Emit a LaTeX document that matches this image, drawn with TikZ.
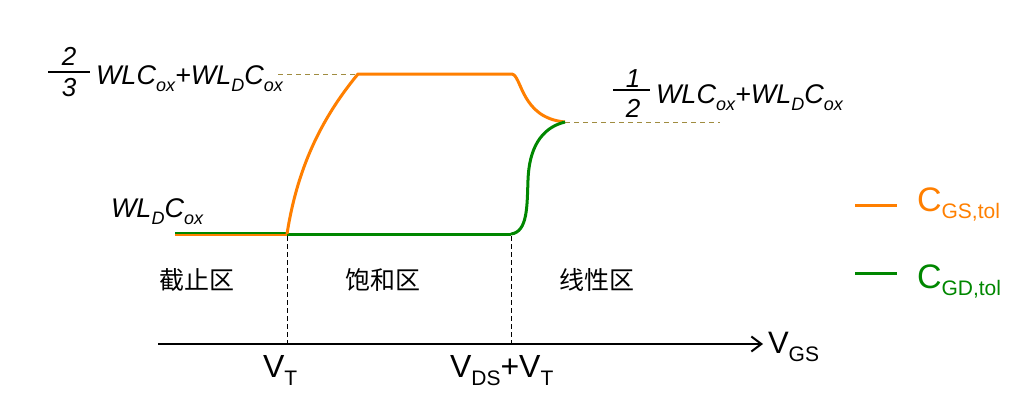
\documentclass[tikz,border=0pt]{standalone}
\usepackage{fontspec}
\setmainfont{Liberation Sans}
\newfontfamily\cjk{Noto Sans CJK SC}
\usetikzlibrary{arrows.meta}
\definecolor{cgs}{RGB}{255,127,0}
\definecolor{cgd}{RGB}{0,135,0}
\definecolor{guide}{RGB}{160,140,64}
\newcommand\lowsub[3]{\raisebox{-#2pt}{\fontsize{#1}{#1}\selectfont #3}}
\begin{document}
\begin{tikzpicture}[x=1pt,y=-1pt,
  lbl/.style={inner sep=0pt,outer sep=0pt,anchor=base west},
  formula/.style={lbl,font=\fontsize{27}{27}\selectfont\itshape},
  digit/.style={inner sep=0pt,anchor=center,font=\fontsize{26}{26}\selectfont\itshape},
  volt/.style={lbl,font=\fontsize{32}{32}\selectfont},
  region/.style={inner sep=0pt,anchor=center,font=\cjk\fontsize{25}{25}\selectfont},
  guideline/.style={guide,line width=1pt,dash pattern=on 5pt off 4pt},
  marker/.style={black,line width=1pt,dash pattern=on 5pt off 3pt},
  gsline/.style={cgs,line width=3pt},
  gdline/.style={cgd,line width=3pt},
  legend/.style={lbl,font=\fontsize{34}{34}\selectfont}]
\useasboundingbox (0,0) rectangle (1032,413);
% key points
\coordinate (start) at (175,234);
\coordinate (vt) at (287,234);
\coordinate (sat) at (358,74);
\coordinate (satend) at (512,74);
\coordinate (lin) at (565,122);
\coordinate (vdst) at (511,234);
\coordinate (ax0) at (158,344);
\coordinate (ax1) at (763,344);
\coordinate (vtax) at (287,344);
\coordinate (vdstax) at (511,344);
\coordinate (g1) at (278,74);
\coordinate (g2) at (720,122);
% guides
\draw[guideline] (g1) -- (sat);
\draw[guideline] (lin) -- (g2);
\draw[marker] (287,236) -- (vtax);
\draw[marker] (511,236) -- (vdstax);
% axis
\draw[line width=2pt,-{Straight Barb[length=10pt,width=15pt,line width=2pt]}] (ax0) -- (ax1);
% flat parts
\draw[cgd,line width=1.6pt] (175,232.8) -- (287,232.8);
\draw[cgs,line width=1.6pt] (175,235.2) -- (287,235.2);
\draw[gdline] (vt) -- (vdst);
% curves
\draw[gsline,line join=round] (vt) .. controls (297,170) and (320,120) .. (sat) -- (satend)
   .. controls (522,76) and (521,118) .. (lin);
\draw[gdline] (vdst) .. controls (528,232) and (527,205) .. (528,180)
   .. controls (529,150) and (540,128) .. (lin);
% formula labels
\node[digit] (n2a) at (69,56) {2};
\node[digit] (n3a) at (69,88) {3};
\draw[line width=2pt] (48,72) -- (90,72);
\node[formula] (topl) at (96,84) {WLC\lowsub{18}{7}{ox}+WL\lowsub{18}{7}{D}C\lowsub{18}{7}{ox}};
\node[digit] (n1b) at (633,79) {1};
\node[digit] (n2b) at (633,108) {2};
\draw[line width=2pt] (613,90) -- (650,90);
\node[formula] (midl) at (656,103) {WLC\lowsub{18}{7}{ox}+WL\lowsub{18}{7}{D}C\lowsub{18}{7}{ox}};
\node[formula] (lowl) at (111,217) {WL\lowsub{18}{7}{D}C\lowsub{18}{7}{ox}};
% axis labels
\node[volt] (vtl) at (263,377) {V\lowsub{21}{8}{T}};
\node[volt] (vdsl) at (450,377) {V\lowsub{21}{8}{DS}+V\lowsub{21}{8}{T}};
\node[lbl,font=\fontsize{31}{31}\selectfont] (vgsl) at (768,353) {V\lowsub{21}{8}{GS}};
% regions
\node[region] (r1) at (197,280) {截止区};
\node[region] (r2) at (383,280) {饱和区};
\node[region] (r3) at (597,280) {线性区};
% legend
\coordinate (la0) at (855,205);
\coordinate (la1) at (897,205);
\coordinate (lb0) at (855,273);
\coordinate (lb1) at (897,273);
\draw[gsline] (la0) -- (la1);
\draw[gdline] (lb0) -- (lb1);
\node[legend,text=cgs] (lga) at (917,211) {C\lowsub{21}{7}{GS,tol}};
\node[legend,text=cgd] (lgb) at (917,288) {C\lowsub{21}{7}{GD,tol}};
\end{tikzpicture}
\end{document}
